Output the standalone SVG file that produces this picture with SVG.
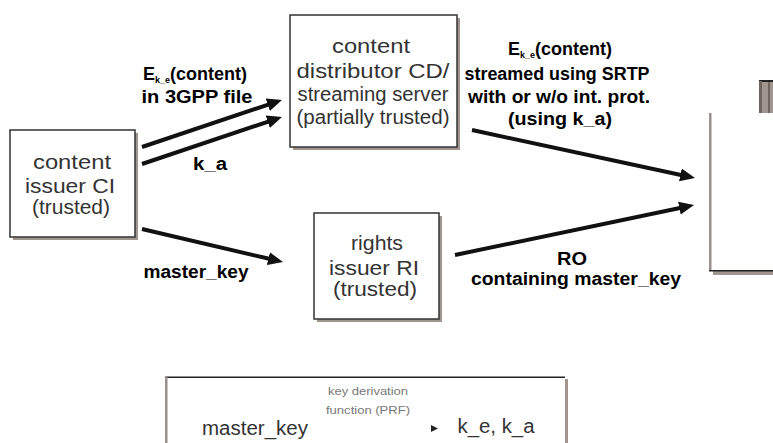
<svg xmlns="http://www.w3.org/2000/svg" width="773" height="443" viewBox="0 0 773 443">
<style>
.bx{fill:#fff;stroke:#333;stroke-width:1.5}
.sh{fill:#a0958f}
.nt{font-family:"Liberation Sans",Arial,sans-serif;font-size:20px;fill:#333;text-anchor:middle}
.lb{font-family:"Liberation Sans",Arial,sans-serif;font-size:18px;font-weight:bold;fill:#000;text-anchor:middle}
.sub{font-size:9px}
.cn{stroke:#111;stroke-width:4;fill:none}
.sm{font-family:"Liberation Sans",Arial,sans-serif;font-size:11px;fill:#777;text-anchor:middle}
.bt{font-family:"Liberation Sans",Arial,sans-serif;font-size:20px;fill:#333;text-anchor:middle}
</style>
<defs>
<marker id="ah" markerUnits="userSpaceOnUse" markerWidth="16" markerHeight="14" viewBox="0 -7 16 14" refX="3" refY="0" orient="auto">
<path d="M0,-6.5 L15,0 L0,6.5 z" fill="#111"/>
</marker>
</defs>
<rect width="773" height="443" fill="#fff"/>

<g id="ci">
<rect class="sh" x="13" y="133" width="125" height="107"/>
<rect class="bx" x="10" y="130" width="125" height="107"/>
<text class="nt" x="72" y="169" textLength="78" lengthAdjust="spacingAndGlyphs">content</text>
<text class="nt" x="70" y="193" textLength="90" lengthAdjust="spacingAndGlyphs">issuer CI</text>
<text class="nt" x="71" y="214" textLength="78" lengthAdjust="spacingAndGlyphs">(trusted)</text>
</g>

<g id="cd">
<rect class="sh" x="293" y="18" width="167" height="132"/>
<rect class="bx" x="290" y="15" width="167" height="132"/>
<text class="nt" x="371" y="53" textLength="78" lengthAdjust="spacingAndGlyphs">content</text>
<text class="nt" x="373" y="78" textLength="153" lengthAdjust="spacingAndGlyphs">distributor CD/</text>
<text class="nt" x="373" y="101" textLength="151" lengthAdjust="spacingAndGlyphs">streaming server</text>
<text class="nt" x="373" y="124" textLength="153" lengthAdjust="spacingAndGlyphs">(partially trusted)</text>
</g>

<g id="ri">
<rect class="sh" x="317" y="216" width="125" height="106"/>
<rect class="bx" x="314" y="213" width="125" height="106"/>
<text class="nt" x="377" y="250" textLength="52" lengthAdjust="spacingAndGlyphs">rights</text>
<text class="nt" x="374" y="275" textLength="90" lengthAdjust="spacingAndGlyphs">issuer RI</text>
<text class="nt" x="375" y="296" textLength="84" lengthAdjust="spacingAndGlyphs">(trusted)</text>
</g>

<g id="terminal">
<rect class="sh" x="713" y="271" width="60" height="4"/>
<rect x="709" y="113" width="2.5" height="158" fill="#9a8f8b"/>
<rect x="709" y="270" width="64" height="1.5" fill="#222"/>
</g>

<g id="small">
<rect x="759" y="81" width="14" height="32" fill="#a0958f"/>
<rect x="759" y="80" width="14" height="2" fill="#222"/>
<rect x="759" y="81" width="3" height="32" fill="#6e6460"/>
<rect x="768" y="82" width="2" height="31" fill="#6e6460"/>
</g>

<g id="kdf">
<rect x="165" y="376.5" width="400" height="1.5" fill="#222"/>
<rect x="165" y="377" width="2.5" height="66" fill="#9a8f8b"/>
<rect x="565" y="379" width="3" height="64" fill="#a0958f"/>
<text class="sm" x="368" y="395" textLength="80" lengthAdjust="spacingAndGlyphs">key derivation</text>
<text class="sm" x="368" y="414" textLength="84" lengthAdjust="spacingAndGlyphs">function (PRF)</text>
<text class="bt" x="255" y="435" textLength="106" lengthAdjust="spacingAndGlyphs">master_key</text>
<path d="M431,425 L438,428.5 L431,432 z" fill="#222"/>
<text class="bt" x="496" y="433" textLength="77" lengthAdjust="spacingAndGlyphs">k_e, k_a</text>
</g>

<g id="connectors">
<line class="cn" x1="142" y1="147" x2="270.6" y2="103.8" marker-end="url(#ah)"/>
<line class="cn" x1="142" y1="164" x2="270.6" y2="120.8" marker-end="url(#ah)"/>
<line class="cn" x1="472" y1="130" x2="683.3" y2="175.5" marker-end="url(#ah)"/>
<line class="cn" x1="455" y1="255" x2="682.3" y2="207.5" marker-end="url(#ah)"/>
<line class="cn" x1="142" y1="229" x2="271.3" y2="259.3" marker-end="url(#ah)"/>
</g>

<g id="labels">
<text class="lb" x="195" y="80">E<tspan class="sub" dy="3">k_e</tspan><tspan dy="-3">(content)</tspan></text>
<text class="lb" x="197" y="103" textLength="111" lengthAdjust="spacingAndGlyphs">in 3GPP file</text>
<text class="lb" x="210" y="170" textLength="34" lengthAdjust="spacingAndGlyphs">k_a</text>
<text class="lb" x="196" y="278" textLength="105" lengthAdjust="spacingAndGlyphs">master_key</text>
<text class="lb" x="560" y="55">E<tspan class="sub" dy="3">k_e</tspan><tspan dy="-3">(content)</tspan></text>
<text class="lb" x="557" y="80" textLength="185" lengthAdjust="spacingAndGlyphs">streamed using SRTP</text>
<text class="lb" x="559" y="103" textLength="182" lengthAdjust="spacingAndGlyphs">with or w/o int. prot.</text>
<text class="lb" x="560" y="125" textLength="104" lengthAdjust="spacingAndGlyphs">(using k_a)</text>
<text class="lb" x="572" y="265" textLength="30" lengthAdjust="spacingAndGlyphs">RO</text>
<text class="lb" x="576" y="285" textLength="210" lengthAdjust="spacingAndGlyphs">containing master_key</text>
</g>
</svg>
